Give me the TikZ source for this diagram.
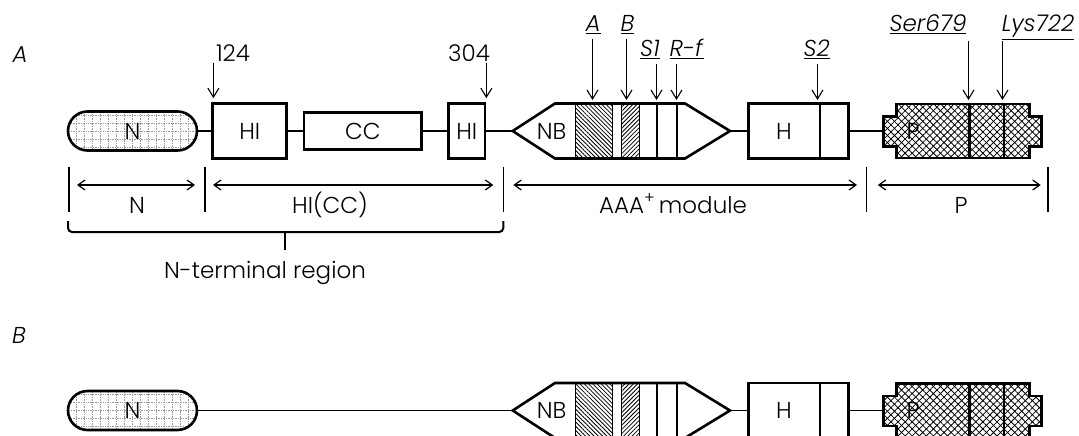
\documentclass[tikz,border=0pt]{standalone}
\usepackage{fontspec}
\setmainfont{Poppins Light}[ItalicFont={Poppins Light Italic}]
\usetikzlibrary{arrows.meta,patterns.meta}
\newcommand\labf{\fontsize{23}{27}\selectfont}
\newcommand\ulab[1]{\underline{\textit{#1}}}
\begin{document}
\begin{tikzpicture}[x=1pt,y=-1pt,
  font=\labf,
  thickline/.style={line width=2.6pt,line join=miter},
  thinline/.style={line width=1.2pt},
  box/.style={draw,line width=2.6pt,inner sep=0pt,minimum height=55pt},
  nbox/.style={draw,line width=2.6pt,inner sep=0pt,minimum width=129pt,minimum height=39pt,
    rounded corners=19.5pt,
    path picture={\draw[densely dotted,gray!80,line width=0.7pt,step=8pt]
      ([xshift=-4pt]path picture bounding box.south west) grid (path picture bounding box.north east);}},
  pin/.style={line width=1.1pt,-{Straight Barb[length=9pt,width=11pt,line width=1.1pt]}},
  dim/.style={line width=1.2pt,{Straight Barb[length=7pt,width=10pt,line width=1.2pt]}-{Straight Barb[length=7pt,width=10pt,line width=1.2pt]}},
  ticky/.style={line width=1.2pt},
  hatA/.style={pattern={Lines[angle=-45,distance=3pt,line width=0.8pt]}},
  hatB/.style={pattern={Lines[angle=45,distance=3pt,line width=0.8pt]}},
  crossA/.style={pattern={Lines[angle=45,distance=5pt,line width=0.8pt]}},
  crossB/.style={pattern={Lines[angle=-45,distance=5pt,line width=0.8pt]}},
  lbl/.style={inner sep=0pt,anchor=base}
]
\useasboundingbox (0,0) rectangle (1079,436);

% ---------- common right part: NB hexagon, H box, P shape, N box ----------
\newcommand\aaarow[2]{%
  \coordinate (#2nbL) at (512.7,#1);
  \coordinate (#2nbR) at (730,#1);
  \fill[white] (512.7,#1) -- (555,#1-27.5) -- (685,#1-27.5) -- (730,#1) -- (685,#1+27.5) -- (555,#1+27.5) -- cycle;
  \fill[hatA] (575,#1-27.5) rectangle (612.7,#1+27.5);
  \draw[line width=0.8pt] (575,#1-27.5) rectangle (612.7,#1+27.5);
  \fill[hatB] (621,#1-27.5) rectangle (639.3,#1+27.5);
  \draw[line width=0.8pt] (621,#1-27.5) rectangle (639.3,#1+27.5);
  \draw[line width=2pt] (656.7,#1-27.5) -- (656.7,#1+27.5);
  \draw[line width=2pt] (676.7,#1-27.5) -- (676.7,#1+27.5);
  \draw[thickline] (#2nbL) -- (555,#1-27.5) -- (685,#1-27.5) -- (#2nbR) -- (685,#1+27.5) -- (555,#1+27.5) -- cycle;
  \node (#2nbt) at (551.7,#1) {NB};
  \node[box,minimum width=100pt] (#2h) at (798.3,#1) {};
  \draw[line width=2pt] (820,#1-27.5) -- (820,#1+27.5);
  \node (#2ht) at (784,#1) {H};
  \draw[thinline] (#2nbR) -- (#2h.west);
  \coordinate (#2pL) at (883.3,#1);
  \fill[white] (883.3,#1-14.5) -- (896.7,#1-14.5) -- (896.7,#1-27) -- (1029.3,#1-27) -- (1029.3,#1-14.5) -- (1041.7,#1-14.5) -- (1041.7,#1+15.5) -- (1029.3,#1+15.5) -- (1029.3,#1+27) -- (896.7,#1+27) -- (896.7,#1+15.5) -- (883.3,#1+15.5) -- cycle;
  \fill[crossA] (883.3,#1-14.5) -- (896.7,#1-14.5) -- (896.7,#1-27) -- (1029.3,#1-27) -- (1029.3,#1-14.5) -- (1041.7,#1-14.5) -- (1041.7,#1+15.5) -- (1029.3,#1+15.5) -- (1029.3,#1+27) -- (896.7,#1+27) -- (896.7,#1+15.5) -- (883.3,#1+15.5) -- cycle;
  \fill[crossB] (883.3,#1-14.5) -- (896.7,#1-14.5) -- (896.7,#1-27) -- (1029.3,#1-27) -- (1029.3,#1-14.5) -- (1041.7,#1-14.5) -- (1041.7,#1+15.5) -- (1029.3,#1+15.5) -- (1029.3,#1+27) -- (896.7,#1+27) -- (896.7,#1+15.5) -- (883.3,#1+15.5) -- cycle;
  \draw[thickline] (#2pL) -- (883.3,#1-14.5) -- (896.7,#1-14.5) -- (896.7,#1-27) -- (1029.3,#1-27) -- (1029.3,#1-14.5) -- (1041.7,#1-14.5) -- (1041.7,#1+15.5) -- (1029.3,#1+15.5) -- (1029.3,#1+27) -- (896.7,#1+27) -- (896.7,#1+15.5) -- (883.3,#1+15.5) -- cycle;
  \draw[thickline] (969.3,#1-27) -- (969.3,#1+27);
  \draw[thickline] (1004,#1-27) -- (1004,#1+27);
  \node (#2pt) at (913,#1) {P};
  \draw[thinline] (#2h.east) -- (#2pL);
  \node[nbox] (#2n) at (132.5,#1) {N};
}

% ================= Row A =================
\node[font=\labf\itshape] (rowA) at (20,55) {A};
\aaarow{131}{a}
\node[box,minimum width=74pt] (hi1) at (249.7,131) {HI};
\node[box,minimum width=117.7pt,minimum height=36.7pt] (cc) at (362.8,131) {CC};
\node[box,minimum width=36.7pt] (hi2) at (466.7,131) {HI};
\draw[thinline] (an.east) -- (hi1.west);
\draw[thinline] (hi1.east) -- (cc.west);
\draw[thinline] (cc.east) -- (hi2.west);
\draw[thinline] (hi2.east) -- (anbL);

\node[lbl] (l124) at (233,61.7) {124};
\node[lbl] (l304) at (469,61.7) {304};
\draw[pin] ([xshift=2pt,yshift=39pt]hi1.north west) -- ([xshift=2pt,yshift=4pt]hi1.north west);
\draw[pin] ([yshift=39pt]hi2.north east) -- ([yshift=4pt]hi2.north east);

\node[lbl] (lA) at (593,32) {\ulab{A}};
\node[lbl] (lB) at (627.5,32) {\ulab{B}};
\node[lbl] (lS1) at (650,57) {\ulab{S1}};
\node[lbl] (lRf) at (686.7,57) {\ulab{R-f}};
\node[lbl] (lS2) at (816.7,57) {\ulab{S2}};
\node[lbl] (lSer) at (928,32) {\ulab{Ser679}};
\node[lbl] (lLys) at (1038,32) {\ulab{Lys722}};
\draw[pin] (592.5,39) -- (592.5,100);
\draw[pin] (626.5,39) -- (626.5,100);
\draw[pin] (656.5,64) -- (656.5,100);
\draw[pin] (676.5,64) -- (676.5,100);
\draw[pin] (817.5,64) -- (817.5,100);
\draw[pin] (968.5,41) -- (968.5,100);
\draw[pin] (1002.5,41) -- (1002.5,100);

% dimension lines
\coordinate (t1) at (69,167);
\coordinate (t2) at (205,167);
\coordinate (t3) at (503.3,167);
\coordinate (t4) at (866.7,167);
\coordinate (t5) at (1048,167);
\foreach \t in {t1,t2,t3,t4,t5} \draw[ticky] (\t) -- ++(0,45);
\draw[dim] (77,185) -- (195,185);
\draw[dim] (213,185) -- (493.3,185);
\draw[dim] (513.3,185) -- (857,185);
\draw[dim] (877.8,185) -- (1040.7,185);
\node[lbl] (dN) at (137,213) {N};
\node[lbl] (dHI) at (330,213) {HI(CC)};
\node[lbl] (dAAA) at (673,213) {AAA\textsuperscript{+}\,module};
\node[lbl] (dP) at (961,213) {P};

% brace
\draw[line width=2pt,rounded corners=4pt] (68,221) -- (68,232) -- (503.3,232) -- (503.3,221);
\coordinate (brc) at (284.5,232);
\draw[line width=2pt] (brc) -- ++(0,18);
\node (nterm) at (265,273) {N-terminal region};

% ================= Row B =================
\node[font=\labf\itshape] (rowB) at (19,335) {B};
\aaarow{410.5}{b}
\draw[thinline] (bn.east) -- (bnbL);

\end{tikzpicture}
\end{document}
